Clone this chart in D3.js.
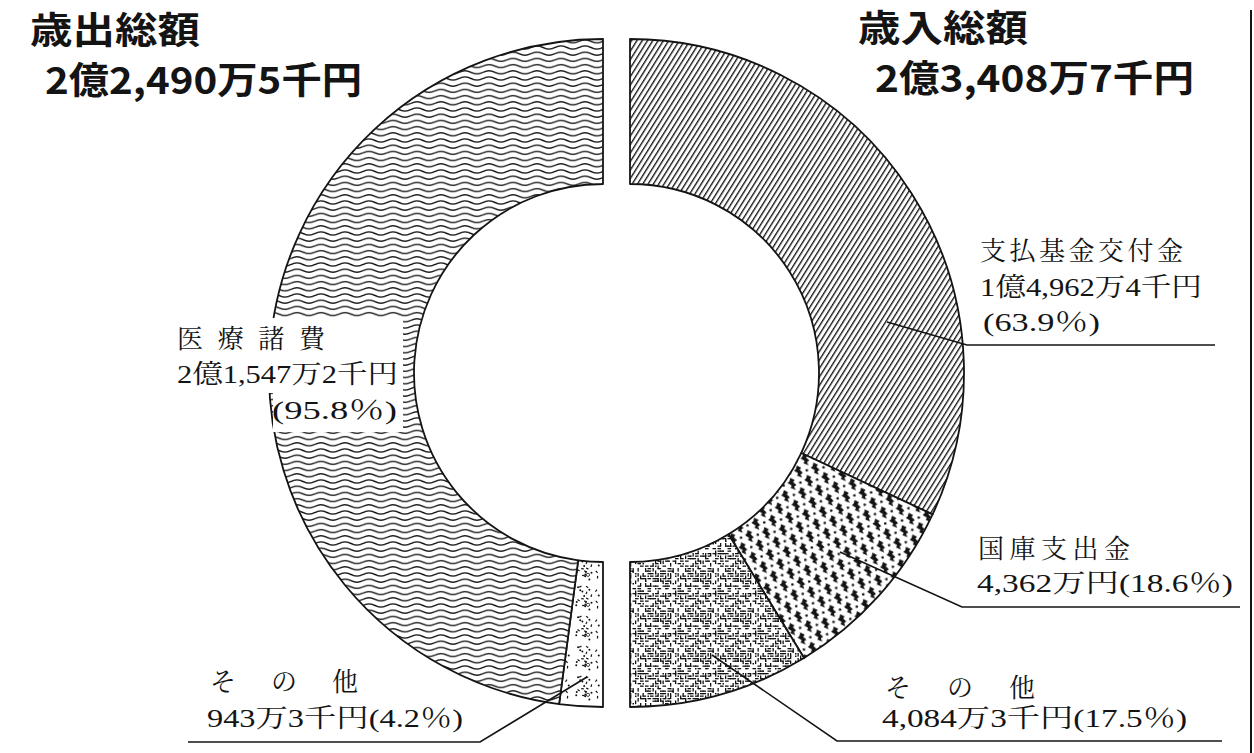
<!DOCTYPE html>
<html><head><meta charset="utf-8">
<script src="https://cdn.jsdelivr.net/npm/d3@7"></script>
<style>body{margin:0;background:#fff}svg{display:block}</style>
</head><body>
<svg id="c" width="1254" height="753"></svg>
<script>
// ---- data (万円) ----
const expCategories = ["その他", "医療諸費"];           // clockwise from bottom
const expValues = [943.3, 21547.2];
const revCategories = ["支払基金交付金", "国庫支出金", "その他"]; // clockwise from top
const revValues = [14962.4, 4362, 4084.3];
const expTitle = ["歳出総額", "2億2,490万5千円"];
const revTitle = ["歳入総額", "2億3,408万7千円"];
const expLabelText = [["その他", "943万3千円(4.2％)"], ["医療諸費", "2億1,547万2千円", "(95.8％)"]];
const revLabelText = [["支払基金交付金", "1億4,962万4千円", "(63.9％)"], ["国庫支出金", "4,362万円(18.6％)"], ["その他", "4,084万3千円(17.5％)"]];

const svg = d3.select("#c");
const ink = "#141414";
const defs = svg.append("defs");

// deterministic texture generator (for stipple textures only)
function lcg(seed){ let s = seed; return () => (s = (s * 1664525 + 1013904223) % 4294967296) / 4294967296; }

// wavy lines
(function(){
  const p = defs.append("pattern").attr("id","wave").attr("patternUnits","userSpaceOnUse").attr("width",24).attr("height",6.2);
  p.append("rect").attr("width",24).attr("height",6.2).attr("fill","#fff");
  p.append("path").attr("d","M0,3.1 Q6,0.1 12,3.1 T24,3.1").attr("fill","none").attr("stroke",ink).attr("stroke-width",1.25);
})();
// diagonal hatch
(function(){
  const p = defs.append("pattern").attr("id","hatch").attr("patternUnits","userSpaceOnUse").attr("width",4.5).attr("height",10).attr("patternTransform","rotate(32)");
  p.append("rect").attr("width",4.5).attr("height",10).attr("fill","#fff");
  p.append("rect").attr("x",0).attr("y",0).attr("width",1.35).attr("height",10).attr("fill",ink);
})();
// lightning blobs + dots
(function(){
  const W = 17, H = 22;
  const p = defs.append("pattern").attr("id","bolt").attr("patternUnits","userSpaceOnUse").attr("width",W).attr("height",H).attr("patternTransform","rotate(-10)");
  p.append("rect").attr("width",W).attr("height",H).attr("fill","#fff");
  const bolt = "M-0.5,-5 L2.6,-2.6 L1.2,-1.3 L3.2,1.4 L1.3,2.3 L1.9,5 L-1.6,2.6 L-0.4,1.1 L-3.2,-1.4 L-1.5,-2.5 Z";
  const centers = [[4.25,5.5],[12.75,16.5]];
  centers.forEach(([x,y]) => {
    for (const dx of [-W,0,W]) for (const dy of [-H,0,H])
      p.append("path").attr("d",bolt).attr("transform",`translate(${x+dx},${y+dy}) scale(1.3)`).attr("fill",ink);
  });
  [[12.75,5.5],[4.25,16.5]].forEach(([x,y]) => p.append("circle").attr("cx",x).attr("cy",y).attr("r",1.3).attr("fill",ink));
})();
// dense maze speckle
(function(){
  const W = 40, p = defs.append("pattern").attr("id","maze").attr("patternUnits","userSpaceOnUse").attr("width",W).attr("height",W);
  p.append("rect").attr("width",W).attr("height",W).attr("fill","#fff");
  const r = lcg(17);
  for (let y = 0; y < W; y += 2.5) for (let x = 0; x < W; x += 2.5) {
    const v = r();
    if (v < 0.24) p.append("rect").attr("x",x).attr("y",y).attr("width",Math.min(3.6, W-x)).attr("height",1.3).attr("fill",ink);
    else if (v < 0.44) p.append("rect").attr("x",x).attr("y",y).attr("width",1.3).attr("height",Math.min(3.6, W-y)).attr("fill",ink);
    else if (v < 0.52) p.append("rect").attr("x",x).attr("y",y).attr("width",1.5).attr("height",1.5).attr("fill",ink);
  }
})();
// sparse speckle
(function(){
  const W = 30, p = defs.append("pattern").attr("id","speck").attr("patternUnits","userSpaceOnUse").attr("width",W).attr("height",W);
  p.append("rect").attr("width",W).attr("height",W).attr("fill","#fff");
  const r = lcg(91);
  for (let i = 0; i < 26; i++) {
    const x = 3 + r()*(W-6), y = 3 + r()*(W-6), t = r();
    if (t < 0.5) p.append("rect").attr("x",x-1.3).attr("y",y-0.6).attr("width",2.6).attr("height",1.2).attr("transform",`rotate(${Math.round(r()*180)},${x},${y})`).attr("fill",ink);
    else if (t < 0.85) p.append("circle").attr("cx",x).attr("cy",y).attr("r",1.0).attr("fill",ink);
    else p.append("circle").attr("cx",x).attr("cy",y).attr("r",1.6).attr("fill","none").attr("stroke",ink).attr("stroke-width",0.8);
  }
})();

const R = 334, r0 = 189, cy = 373, cxL = 603, cxR = 630;
const arc = d3.arc().innerRadius(r0).outerRadius(R);
const expFill = ["speck", "wave"];
const revFill = ["hatch", "bolt", "maze"];

const pieL = d3.pie().sort(null).startAngle(Math.PI).endAngle(2*Math.PI);
const pieR = d3.pie().sort(null).startAngle(0).endAngle(Math.PI);

const gL = svg.append("g").attr("transform",`translate(${cxL},${cy})`);
gL.selectAll("path").data(pieL(expValues)).join("path")
  .attr("d", arc).attr("fill",(d,i)=>`url(#${expFill[i]})`)
  .attr("stroke", ink).attr("stroke-width", 1.8).attr("stroke-linejoin","round");
const gR = svg.append("g").attr("transform",`translate(${cxR},${cy})`);
gR.selectAll("path").data(pieR(revValues)).join("path")
  .attr("d", arc).attr("fill",(d,i)=>`url(#${revFill[i]})`)
  .attr("stroke", ink).attr("stroke-width", 1.8).attr("stroke-linejoin","round");

// ---- annotations ----
const labelFont = "'Liberation Serif','Noto Serif CJK JP','Noto Sans CJK JP',serif";
const titleFont = "'Noto Sans CJK JP','Noto Sans',sans-serif";

// white boxes behind 医療諸費 label
[[160,318,243,75],[273,393,130,39]].forEach(([x,y,w,h]) =>
  svg.append("rect").attr("x",x).attr("y",y).attr("width",w).attr("height",h).attr("fill","#fff"));

function drawLines(texts, layout, font, size, weight){
  texts.forEach((t,i) => {
    const [x,y,w,adj] = layout[i];
    svg.append("text").attr("x",x).attr("y",y).attr("font-family",font).attr("font-size",size)
      .attr("font-weight",weight).attr("fill",ink)
      .attr("textLength",w).attr("lengthAdjust",adj || "spacingAndGlyphs").text(t);
  });
}
drawLines(expTitle, [[30,44,170],[45,94,317]], titleFont, 37, 700);
drawLines(revTitle, [[858,42,170],[875,92,319]], titleFont, 37, 700);

const expLayout = [
  [[210,691,148,"spacing"],[207,727,256]],
  [[177,348,148,"spacing"],[177,383,221],[272,419,125]]
];
const revLayout = [
  [[980,260,203,"spacing"],[980,296,222],[983,331,117]],
  [[978,558,152,"spacing"],[977,592,256]],
  [[885,697,150,"spacing"],[882,727,305]]
];
expLabelText.forEach((t,i) => drawLines(t, expLayout[i], labelFont, 26, 400));
revLabelText.forEach((t,i) => drawLines(t, revLayout[i], labelFont, 26, 400));

// leader lines
const leaders = [
  [[587,677],[480,742],[188,742]],
  [[887,322],[967,345],[1215,345]],
  [[840,552],[962,607],[1240,607]],
  [[712,655],[837,741],[1222,741]]
];
const line = d3.line();
leaders.forEach(pts => svg.append("path").attr("d", line(pts)).attr("fill","none").attr("stroke",ink).attr("stroke-width",1.6));

// right frame line
svg.append("line").attr("x1",1251).attr("x2",1251).attr("y1",10).attr("y2",753).attr("stroke",ink).attr("stroke-width",2);
</script>
</body></html>
